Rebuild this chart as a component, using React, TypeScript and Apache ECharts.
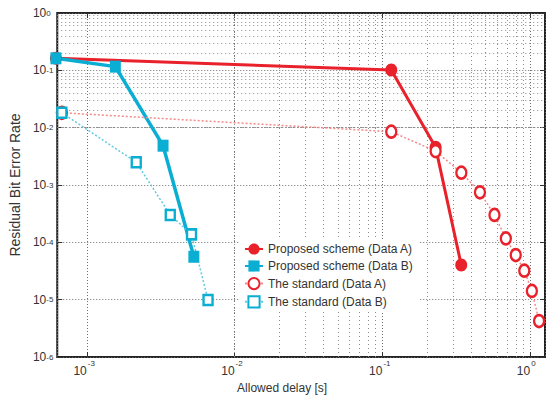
import React, { useEffect, useRef } from "react";
import * as echarts from "echarts";

// Allowed delay [s] vs residual bit error rate
const proposedA: [number, number][] = [
  [6.18e-4, 0.162],
  [0.1148, 0.1013],
  [0.229, 4.54e-3],
  [0.3415, 4.02e-5],
];
const proposedB: [number, number][] = [
  [6.18e-4, 0.162],
  [1.56e-3, 0.116],
  [3.28e-3, 4.85e-3],
  [5.3e-3, 5.6e-5],
];
const standardA: [number, number][] = [
  [6.78e-4, 1.82e-2],
  [0.1148, 8.5e-3],
  [0.229, 3.9e-3],
  [0.342, 1.64e-3],
  [0.457, 7.46e-4],
  [0.573, 3.0e-4],
  [0.684, 1.17e-4],
  [0.798, 6.0e-5],
  [0.912, 3.2e-5],
  [1.026, 1.42e-5],
  [1.148, 4.24e-6],
];
const standardB: [number, number][] = [
  [6.78e-4, 1.82e-2],
  [2.16e-3, 2.49e-3],
  [3.67e-3, 3.0e-4],
  [5.11e-3, 1.38e-4],
  [6.61e-3, 9.86e-6],
];

const seriesNames = [
  "Proposed scheme (Data A)",
  "Proposed scheme (Data B)",
  "The standard (Data A)",
  "The standard (Data B)",
];

// axis range (x in log10 steps of 0.1 so the log scale keeps it as given)
const X_MIN = Math.pow(10, -3.2);
const X_MAX = Math.pow(10, 0.1);
const Y_MIN = 1e-6;
const Y_MAX = 1;

const RED = "#e8212b";
const RED_LIGHT = "#f28a8a";
const CYAN = "#0aaed3";
const CYAN_LIGHT = "#62c9e2";
const TEXT = "#333";
const FONT = "'Liberation Sans', Arial, sans-serif";

const ELLIPSE =
  "path://M1,0C1,0.552,0.552,1,0,1C-0.552,1,-1,0.552,-1,0C-1,-0.552,-0.552,-1,0,-1C0.552,-1,1,-0.552,1,0Z";

// 2..9 multiples of each decade inside [lo, hi], excluding the decades themselves
function minorValues(lo: number, hi: number): number[] {
  const out: number[] = [];
  for (let e = Math.floor(Math.log10(lo)); e <= Math.ceil(Math.log10(hi)); e++) {
    for (let m = 2; m <= 9; m++) {
      const v = m * Math.pow(10, e);
      if (v > lo * 1.0001 && v < hi * 0.9999) out.push(v);
    }
  }
  return out;
}

const baseLabel = () => "10";
const expLabel = (v: number) => String(Math.round(Math.log10(v)));

export default function App() {
  const ref = useRef<HTMLDivElement>(null);

  useEffect(() => {
    if (!ref.current) return;
    const chart = echarts.init(ref.current, undefined, { renderer: "svg" });

    const gridMinor = {
      silent: true,
      symbol: "none",
      z: 1,
      label: { show: false },
      emphasis: { disabled: true },
      lineStyle: { color: "#8c8c8c", type: [1, 3], width: 1 },
      data: [
        ...minorValues(X_MIN, X_MAX).map((v) => ({ xAxis: v })),
        ...minorValues(Y_MIN, Y_MAX).map((v) => ({ yAxis: v })),
      ],
    };

    const tick = { show: true, inside: true, length: 5, lineStyle: { color: "#333", width: 1 } };
    const majorSplit = { show: true, lineStyle: { color: "#6e6e6e", type: [1, 2], width: 1 } };
    const xBase = { type: "log", logBase: 10, min: X_MIN, max: X_MAX, axisLine: { show: false } };
    const yBase = { type: "log", logBase: 10, min: Y_MIN, max: Y_MAX, axisLine: { show: false } };

    chart.setOption({
      animation: false,
      backgroundColor: "#fff",
      grid: {
        left: 50,
        right: 4,
        top: 13,
        bottom: 46,
        show: true,
        borderColor: "#222",
        borderWidth: 2,
        containLabel: false,
      },
      legend: {
        orient: "vertical",
        left: 239,
        top: 240,
        backgroundColor: "#fff",
        padding: [3, 6, 3, 5],
        itemWidth: 18,
        itemHeight: 14,
        itemGap: 5,
        selectedMode: false,
        textStyle: { fontFamily: FONT, fontSize: 12, color: TEXT },
        data: seriesNames,
      },
      xAxis: [
        {
          ...xBase,
          position: "bottom",
          name: "Allowed delay [s]",
          nameLocation: "middle",
          nameGap: 24,
          nameTextStyle: { fontFamily: FONT, fontSize: 12, color: TEXT, padding: [0, 38, 0, 0] },
          axisTick: tick,
          splitLine: majorSplit,
          axisLabel: {
            formatter: baseLabel,
            fontFamily: FONT,
            fontSize: 12,
            color: TEXT,
            align: "right",
            margin: 8,
            showMinLabel: false,
            showMaxLabel: false,
          },
        },
        {
          ...xBase,
          position: "top",
          axisTick: tick,
          splitLine: { show: false },
          axisLabel: { show: false },
        },
        {
          // exponents of the bottom tick labels
          ...xBase,
          position: "bottom",
          axisTick: { show: false },
          splitLine: { show: false },
          axisLabel: {
            formatter: expLabel,
            fontFamily: FONT,
            fontSize: 8,
            color: TEXT,
            align: "left",
            padding: [0, 0, 0, 1],
            margin: 2,
            showMinLabel: false,
            showMaxLabel: false,
          },
        },
      ],
      yAxis: [
        {
          ...yBase,
          position: "left",
          name: "Residual Bit Error Rate",
          nameLocation: "middle",
          nameGap: 27,
          nameTextStyle: { fontFamily: FONT, fontSize: 14, color: TEXT },
          axisTick: tick,
          splitLine: majorSplit,
          axisLabel: {
            formatter: baseLabel,
            fontFamily: FONT,
            fontSize: 12,
            color: TEXT,
            align: "right",
            margin: 11,
          },
        },
        {
          ...yBase,
          position: "right",
          axisTick: tick,
          splitLine: { show: false },
          axisLabel: { show: false },
        },
        {
          // exponents of the left tick labels
          ...yBase,
          position: "left",
          axisTick: { show: false },
          splitLine: { show: false },
          axisLabel: {
            formatter: expLabel,
            fontFamily: FONT,
            fontSize: 8,
            color: TEXT,
            align: "left",
            verticalAlign: "middle",
            padding: [0, 0, 16, 0],
            margin: 11,
          },
        },
      ],
      series: [
        {
          name: seriesNames[0],
          type: "line",
          data: proposedA,
          symbol: ELLIPSE,
          symbolSize: [12, 13],
          itemStyle: { color: RED },
          lineStyle: { color: RED, width: 3 },
          markLine: gridMinor,
          clip: false,
          z: 3,
        },
        {
          name: seriesNames[1],
          type: "line",
          data: proposedB,
          symbol: "rect",
          symbolSize: [11, 12],
          itemStyle: { color: CYAN },
          lineStyle: { color: CYAN, width: 3.5 },
          clip: false,
          z: 3,
        },
        {
          name: seriesNames[2],
          type: "line",
          data: standardA,
          symbol: ELLIPSE,
          symbolSize: [10, 12],
          itemStyle: { color: "#fff", borderColor: RED, borderWidth: 2.5 },
          lineStyle: { color: RED_LIGHT, width: 1.5, type: [2, 2] },
          z: 3,
        },
        {
          name: seriesNames[3],
          type: "line",
          data: standardB,
          symbol: "rect",
          symbolSize: [9, 10],
          itemStyle: { color: "#fff", borderColor: CYAN, borderWidth: 2.5 },
          lineStyle: { color: CYAN_LIGHT, width: 1.5, type: [2, 2] },
          z: 3,
        },
      ],
    });

    return () => chart.dispose();
  }, []);

  return (
    <div
      ref={ref}
      style={{ position: "fixed", left: 0, top: 0, width: 549, height: 403, background: "#fff" }}
    />
  );
}
